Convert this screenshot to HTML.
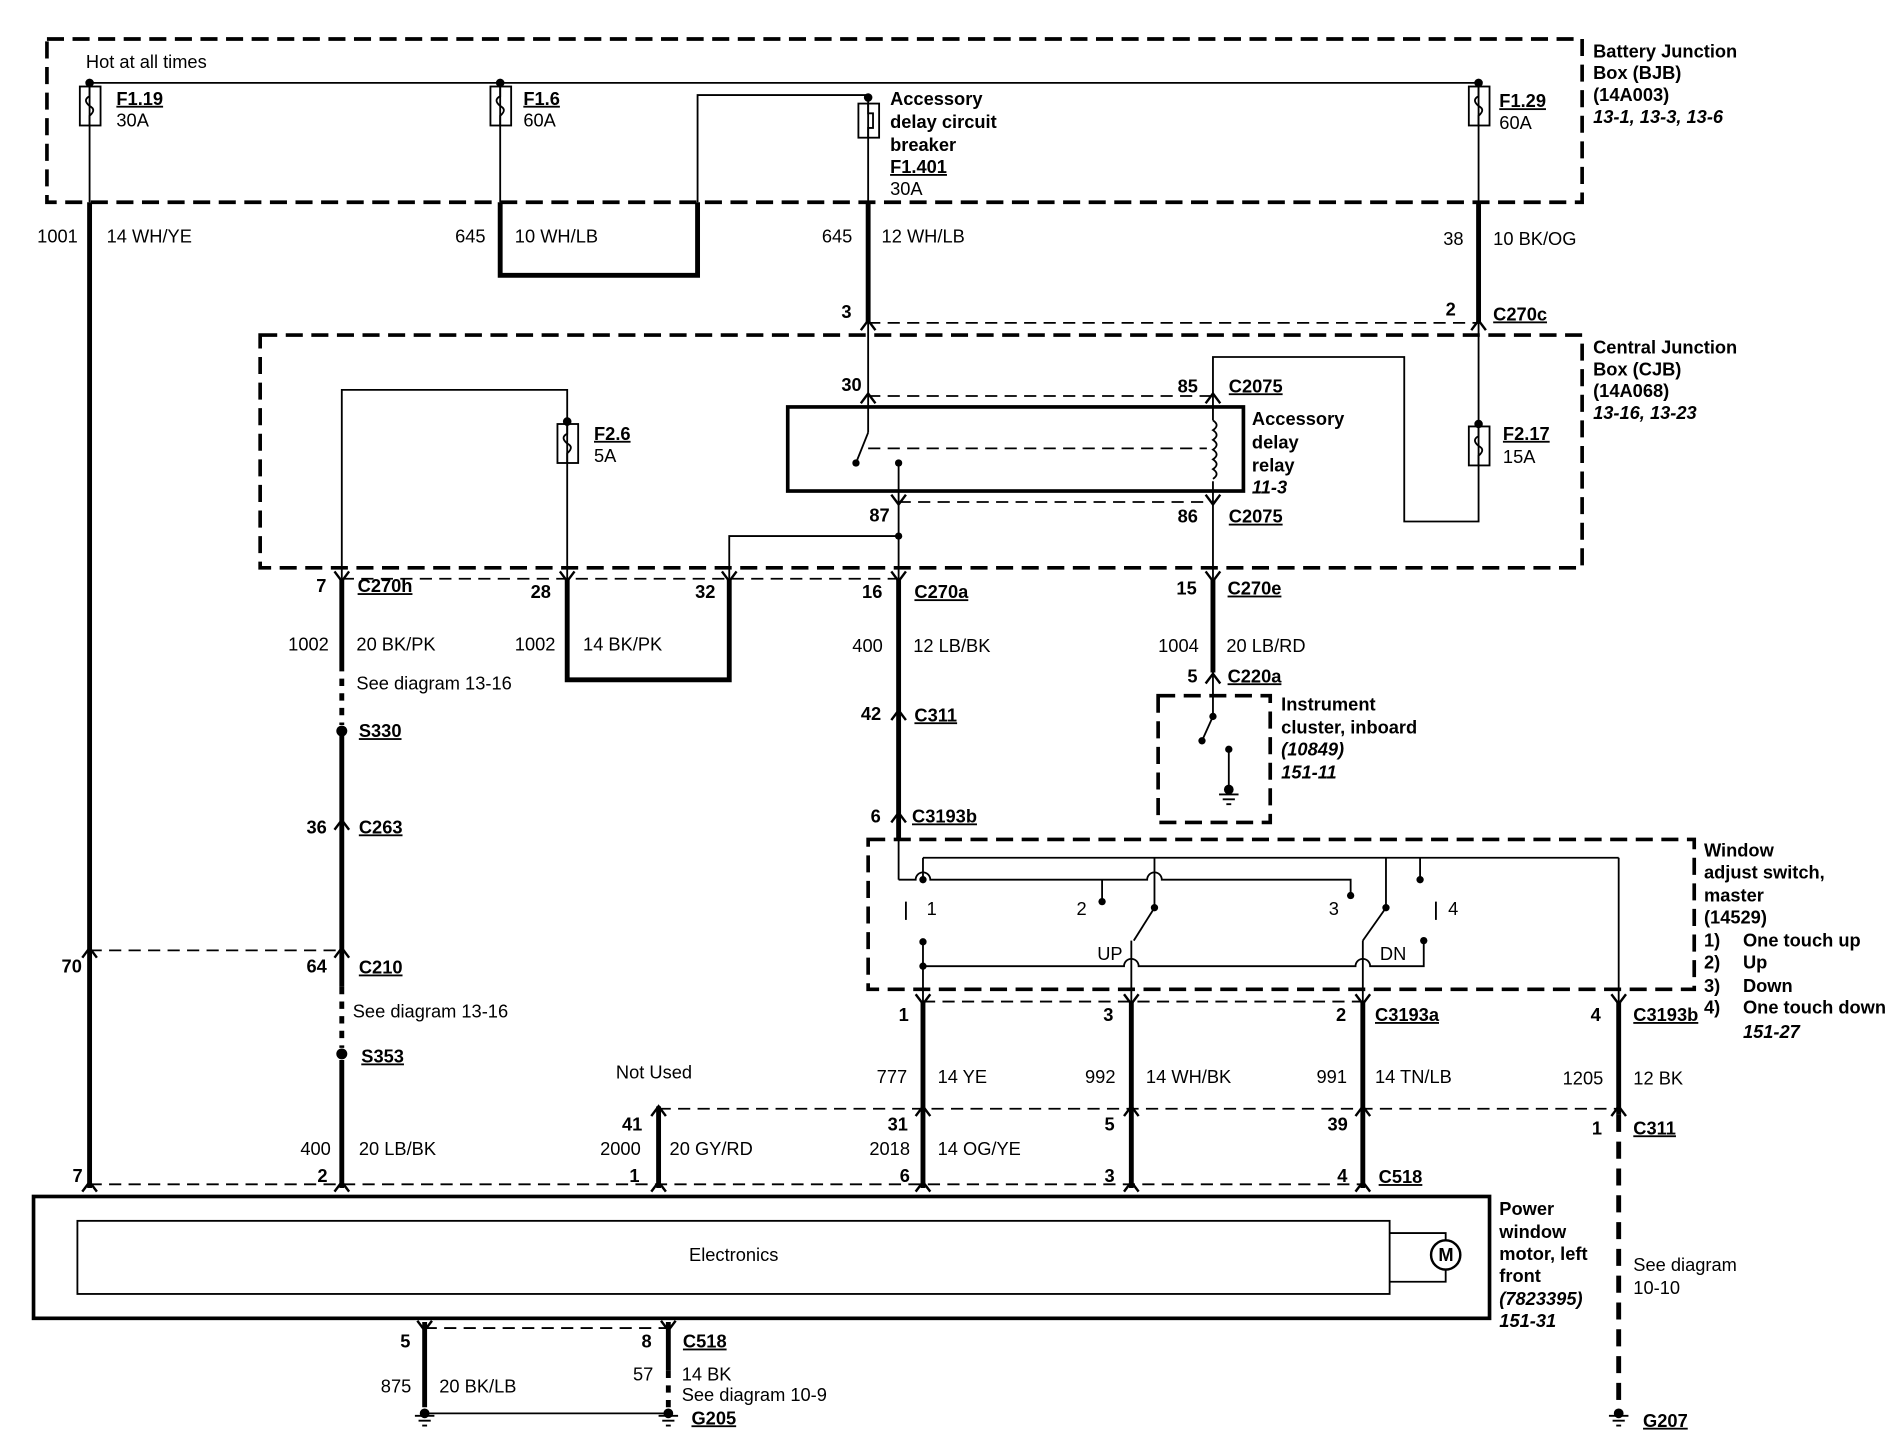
<!DOCTYPE html>
<html><head><meta charset="utf-8"><style>
html,body{margin:0;padding:0;background:#fff;}
svg{display:block}
text{font-family:"Liberation Sans",Arial,sans-serif;font-size:15px;fill:#000}
.b{font-weight:bold}
.i{font-style:italic;font-weight:bold}
.u{text-decoration:underline;font-weight:bold}
</style></head><body>
<svg width="1902" height="1456" viewBox="0 0 1560 1195" xmlns="http://www.w3.org/2000/svg">
<g fill="none" stroke="#000">
<g stroke-width="3" stroke-dasharray="14,7">
<rect x="38" y="32" width="1260" height="134"/>
<rect x="213" y="275" width="1085" height="191"/>
<rect x="950" y="571" width="92" height="104"/>
<rect x="712" y="689" width="678" height="123"/>
</g>
<g stroke-width="1.5" stroke-dasharray="10,6">
<line x1="712" y1="265" x2="1213" y2="265"/>
<line x1="712" y1="325" x2="995" y2="325"/>
<line x1="737" y1="412" x2="995" y2="412"/>
<line x1="712" y1="368" x2="990" y2="368"/>
<line x1="280" y1="475" x2="737" y2="475"/>
<line x1="73" y1="780" x2="280" y2="780"/>
<line x1="757" y1="822" x2="1118" y2="822"/>
<line x1="540" y1="910" x2="1328" y2="910"/>
<line x1="73" y1="972" x2="1118" y2="972"/>
<line x1="348" y1="1090" x2="548" y2="1090"/>
</g>
<g stroke-width="1.5">
<line x1="73" y1="68" x2="1213" y2="68"/>
<line x1="73" y1="68" x2="73" y2="166"/>
<line x1="410" y1="68" x2="410" y2="166"/>
<polyline points="572,166 572,78 712,78 712,166"/>
<line x1="1213" y1="68" x2="1213" y2="166"/>
<line x1="712" y1="265" x2="712" y2="355"/>
<line x1="712" y1="355" x2="702" y2="380"/>
<line x1="737" y1="380" x2="737" y2="475"/>
<polyline points="737,440 598,440 598,475"/>
<polyline points="1213,265 1213,428 1152,428 1152,293 995,293 995,345"/>
<line x1="995" y1="395" x2="995" y2="475"/>
<path d="M995 345 q6 4 0 8 q6 4 0 8 q6 4 0 8 q6 4 0 8 q6 4 0 8 q6 4 0 8"/>
<polyline points="280,475 280,320 465,320 465,475"/>
<line x1="995" y1="550" x2="995" y2="588"/>
<line x1="995" y1="588" x2="986" y2="608"/>
<line x1="1008" y1="615" x2="1008" y2="650"/>
<line x1="737" y1="690" x2="737" y2="722"/>
<line x1="757" y1="704" x2="1328" y2="704"/>
<line x1="1165" y1="704" x2="1165" y2="722"/>
<path d="M737 722 H751 a6 6 0 0 1 12 0 H941 a6 6 0 0 1 12 0 H1108 V735"/>
<line x1="757" y1="704" x2="757" y2="722"/>
<line x1="904" y1="722" x2="904" y2="740"/>
<line x1="947" y1="704" x2="947" y2="745"/>
<line x1="947" y1="745" x2="930" y2="772"/>
<line x1="1137" y1="704" x2="1137" y2="745"/>
<line x1="1137" y1="745" x2="1118" y2="772"/>
<line x1="743" y1="740" x2="743" y2="755"/>
<line x1="1178" y1="740" x2="1178" y2="755"/>
<line x1="757" y1="773" x2="757" y2="822"/>
<path d="M757 793 H922 a6 6 0 0 1 12 0 H1112 a6 6 0 0 1 12 0 H1168 V772"/>
<line x1="928" y1="772" x2="928" y2="822"/>
<line x1="1118" y1="772" x2="1118" y2="822"/>
<line x1="1328" y1="704" x2="1328" y2="822"/>
<line x1="348" y1="1160" x2="548" y2="1160"/>
<polyline points="1140,1012 1186,1012 1186,1018"/>
<polyline points="1140,1052 1186,1052 1186,1042"/>
</g>
<g stroke-width="4">
<line x1="73" y1="166" x2="73" y2="975"/>
<polyline points="410,166 410,226 572,226 572,166"/>
<line x1="712" y1="166" x2="712" y2="265"/>
<line x1="1213" y1="166" x2="1213" y2="265"/>
<polyline points="465,475 465,558 598,558 598,475"/>
<line x1="280" y1="475" x2="280" y2="545"/>
<line x1="280" y1="600" x2="280" y2="810"/>
<line x1="280" y1="870" x2="280" y2="975"/>
<line x1="737" y1="475" x2="737" y2="690"/>
<line x1="995" y1="475" x2="995" y2="552"/>
<line x1="757" y1="822" x2="757" y2="975"/>
<line x1="928" y1="822" x2="928" y2="975"/>
<line x1="1118" y1="822" x2="1118" y2="975"/>
<line x1="1328" y1="822" x2="1328" y2="915"/>
<line x1="540" y1="908" x2="540" y2="975"/>
<line x1="348" y1="1085" x2="348" y2="1155"/>
<line x1="548" y1="1085" x2="548" y2="1125"/>
</g>
<g stroke-width="4" stroke-dasharray="6,6">
<line x1="280" y1="545" x2="280" y2="595"/>
<line x1="280" y1="810" x2="280" y2="860"/>
<line x1="548" y1="1125" x2="548" y2="1155"/>
</g>
<line x1="1328" y1="915" x2="1328" y2="1155" stroke-width="4" stroke-dasharray="14,8"/>
<rect x="646" y="334" width="374" height="69" stroke-width="3"/>
<rect x="27" y="982" width="1195" height="100" stroke-width="3"/>
<rect x="63" y="1002" width="1077" height="60" stroke-width="1.5"/>
<circle cx="1186" cy="1030" r="12" stroke-width="2"/>
<g stroke-width="1.5">
<rect x="65" y="71" width="17" height="32"/><path d="M73 71 v8 q-6 3 0 8 q6 3 0 8 v8"/>
<rect x="402" y="71" width="17" height="32"/><path d="M410 71 v8 q-6 3 0 8 q6 3 0 8 v8"/>
<rect x="1205" y="71" width="17" height="32"/><path d="M1213 71 v8 q-6 3 0 8 q6 3 0 8 v8"/>
<rect x="457" y="348" width="17" height="32"/><path d="M465 348 v8 q-6 3 0 8 q6 3 0 8 v8"/>
<rect x="1205" y="350" width="17" height="32"/><path d="M1213 350 v8 q-6 3 0 8 q6 3 0 8 v8"/>
<rect x="704" y="85" width="17" height="28"/><path d="M712 85 v8 h4 v12 h-4 v8"/>
</g>
<g stroke-width="2">
<path d="M706 271 L712 263 L718 271"/><path d="M1207 271 L1213 263 L1219 271"/>
<path d="M706 331 L712 323 L718 331"/><path d="M989 331 L995 323 L1001 331"/>
<path d="M989 561 L995 553 L1001 561"/>
<path d="M274 681 L280 673 L286 681"/><path d="M731 591 L737 583 L743 591"/><path d="M731 675 L737 667 L743 675"/>
<path d="M67 786 L73 778 L79 786"/><path d="M274 786 L280 778 L286 786"/>
<path d="M67 978 L73 970 L79 978"/><path d="M274 978 L280 970 L286 978"/><path d="M534 978 L540 970 L546 978"/>
<path d="M751 978 L757 970 L763 978"/><path d="M922 978 L928 970 L934 978"/><path d="M1112 978 L1118 970 L1124 978"/>
<path d="M751 916 L757 908 L763 916"/><path d="M922 916 L928 908 L934 916"/><path d="M1112 916 L1118 908 L1124 916"/><path d="M1322 916 L1328 908 L1334 916"/><path d="M534 916 L540 908 L546 916"/>
<path d="M731 406 L737 414 L743 406"/><path d="M989 406 L995 414 L1001 406"/>
<path d="M274 469 L280 477 L286 469"/><path d="M459 469 L465 477 L471 469"/><path d="M592 469 L598 477 L604 469"/><path d="M731 469 L737 477 L743 469"/><path d="M989 469 L995 477 L1001 469"/>
<path d="M751 816 L757 824 L763 816"/><path d="M922 816 L928 824 L934 816"/><path d="M1112 816 L1118 824 L1124 816"/><path d="M1322 816 L1328 824 L1334 816"/>
<path d="M342 1084 L348 1092 L354 1084"/><path d="M542 1084 L548 1092 L554 1084"/>
</g>
<g stroke-width="1.5">
<path d="M1000 652 h16 M1003 656 h10 M1006 660 h4"/>
<path d="M340 1162 h16 M343 1166 h10 M346 1170 h4"/>
<path d="M540 1162 h16 M543 1166 h10 M546 1170 h4"/>
<path d="M1320 1162 h16 M1323 1166 h10 M1326 1170 h4"/>
</g>
</g>
<g fill="#000">
<circle cx="73" cy="68" r="3.5"/><circle cx="410" cy="68" r="3.5"/><circle cx="1213" cy="68" r="3.5"/><circle cx="712" cy="80" r="3.5"/>
<circle cx="465" cy="346" r="3.5"/><circle cx="1213" cy="348" r="3.5"/><circle cx="737" cy="440" r="3"/><circle cx="737" cy="380" r="3"/><circle cx="702" cy="380" r="3"/>
<circle cx="280" cy="600" r="4.5"/><circle cx="280" cy="865" r="4.5"/>
<circle cx="986" cy="608" r="3"/><circle cx="1008" cy="615" r="3"/><circle cx="995" cy="588" r="3"/>
<circle cx="757" cy="722" r="3"/><circle cx="904" cy="740" r="3"/><circle cx="947" cy="745" r="3"/><circle cx="1108" cy="735" r="3"/><circle cx="1137" cy="745" r="3"/><circle cx="1165" cy="722" r="3"/>
<circle cx="757" cy="773" r="3"/><circle cx="757" cy="793" r="3"/><circle cx="1168" cy="772" r="3"/>
<circle cx="1008" cy="648" r="4"/><circle cx="348" cy="1160" r="4"/><circle cx="548" cy="1160" r="4"/><circle cx="1328" cy="1160" r="4"/>
</g>
<text x="70" y="56">Hot at all times</text>
<text x="95" y="86" class="u">F1.19</text><text x="95" y="104">30A</text>
<text x="429" y="86" class="u">F1.6</text><text x="429" y="104">60A</text>
<text x="730" y="86" class="b">Accessory</text><text x="730" y="105" class="b">delay circuit</text><text x="730" y="124" class="b">breaker</text>
<text x="730" y="142" class="u">F1.401</text><text x="730" y="160">30A</text>
<text x="1230" y="88" class="u">F1.29</text><text x="1230" y="106">60A</text>
<text x="1307" y="47" class="b">Battery Junction</text><text x="1307" y="65" class="b">Box (BJB)</text><text x="1307" y="83" class="b">(14A003)</text><text x="1307" y="101" class="i">13-1, 13-3, 13-6</text>
<text x="30" y="199">1001</text><text x="87" y="199">14  WH/YE</text>
<text x="373" y="199">645</text><text x="422" y="199">10  WH/LB</text>
<text x="674" y="199">645</text><text x="723" y="199">12  WH/LB</text>
<text x="1184" y="201">38</text><text x="1225" y="201">10  BK/OG</text>
<text x="690" y="261" class="b">3</text><text x="1186" y="259" class="b">2</text><text x="1225" y="263" class="u">C270c</text>
<text x="1307" y="290" class="b">Central Junction</text><text x="1307" y="308" class="b">Box (CJB)</text><text x="1307" y="326" class="b">(14A068)</text><text x="1307" y="344" class="i">13-16, 13-23</text>
<text x="690" y="321" class="b">30</text><text x="966" y="322" class="b">85</text><text x="1008" y="322" class="u">C2075</text>
<text x="487" y="361" class="u">F2.6</text><text x="487" y="379">5A</text>
<text x="1027" y="349" class="b">Accessory</text><text x="1027" y="368" class="b">delay</text><text x="1027" y="387" class="b">relay</text><text x="1027" y="405" class="i">11-3</text>
<text x="1233" y="361" class="u">F2.17</text><text x="1233" y="380">15A</text>
<text x="713" y="428" class="b">87</text><text x="966" y="429" class="b">86</text><text x="1008" y="429" class="u">C2075</text>
<text x="259" y="486" class="b">7</text><text x="293" y="486" class="u">C270h</text>
<text x="435" y="491" class="b">28</text><text x="570" y="491" class="b">32</text>
<text x="707" y="491" class="b">16</text><text x="750" y="491" class="u">C270a</text>
<text x="965" y="488" class="b">15</text><text x="1007" y="488" class="u">C270e</text>
<text x="236" y="534">1002</text><text x="292" y="534">20  BK/PK</text>
<text x="422" y="534">1002</text><text x="478" y="534">14  BK/PK</text>
<text x="699" y="535">400</text><text x="749" y="535">12  LB/BK</text>
<text x="950" y="535">1004</text><text x="1006" y="535">20  LB/RD</text>
<text x="974" y="560" class="b">5</text><text x="1007" y="560" class="u">C220a</text>
<text x="292" y="566">See diagram 13-16</text>
<text x="1051" y="583" class="b">Instrument</text><text x="1051" y="602" class="b">cluster, inboard</text><text x="1051" y="620" class="i">(10849)</text><text x="1051" y="639" class="i">151-11</text>
<text x="706" y="591" class="b">42</text><text x="750" y="592" class="u">C311</text>
<text x="294" y="605" class="u">S330</text>
<text x="714" y="675" class="b">6</text><text x="748" y="675" class="u">C3193b</text>
<text x="251" y="684" class="b">36</text><text x="294" y="684" class="u">C263</text>
<text x="1398" y="703" class="b">Window</text><text x="1398" y="721" class="b">adjust switch,</text><text x="1398" y="740" class="b">master</text><text x="1398" y="758" class="b">(14529)</text>
<text x="1398" y="777" class="b">1)</text><text x="1430" y="777" class="b">One touch up</text>
<text x="1398" y="795" class="b">2)</text><text x="1430" y="795" class="b">Up</text>
<text x="1398" y="814" class="b">3)</text><text x="1430" y="814" class="b">Down</text>
<text x="1398" y="832" class="b">4)</text><text x="1430" y="832" class="b">One touch down</text>
<text x="1430" y="852" class="i">151-27</text>
<text x="760" y="751">1</text><text x="883" y="751">2</text><text x="1090" y="751">3</text><text x="1188" y="751">4</text>
<text x="900" y="788">UP</text><text x="1132" y="788">DN</text>
<text x="50" y="798" class="b">70</text><text x="251" y="798" class="b">64</text><text x="294" y="799" class="u">C210</text>
<text x="289" y="835">See diagram 13-16</text>
<text x="737" y="838" class="b">1</text><text x="905" y="838" class="b">3</text><text x="1096" y="838" class="b">2</text><text x="1128" y="838" class="u">C3193a</text>
<text x="1305" y="838" class="b">4</text><text x="1340" y="838" class="u">C3193b</text>
<text x="296" y="872" class="u">S353</text>
<text x="505" y="885">Not Used</text>
<text x="719" y="889">777</text><text x="769" y="889">14  YE</text>
<text x="890" y="889">992</text><text x="940" y="889">14  WH/BK</text>
<text x="1080" y="889">991</text><text x="1128" y="889">14  TN/LB</text>
<text x="1282" y="890">1205</text><text x="1340" y="890">12  BK</text>
<text x="510" y="928" class="b">41</text><text x="728" y="928" class="b">31</text><text x="906" y="928" class="b">5</text><text x="1089" y="928" class="b">39</text>
<text x="1306" y="931" class="b">1</text><text x="1340" y="931" class="u">C311</text>
<text x="246" y="948">400</text><text x="294" y="948">20  LB/BK</text>
<text x="492" y="948">2000</text><text x="549" y="948">20  GY/RD</text>
<text x="713" y="948">2018</text><text x="769" y="948">14  OG/YE</text>
<text x="59" y="970" class="b">7</text><text x="260" y="970" class="b">2</text><text x="516" y="970" class="b">1</text><text x="738" y="970" class="b">6</text><text x="906" y="970" class="b">3</text><text x="1097" y="970" class="b">4</text><text x="1131" y="971" class="u">C518</text>
<text x="565" y="1035">Electronics</text>
<text x="1180" y="1035" font-size="13" class="b">M</text>
<text x="1230" y="997" class="b">Power</text><text x="1230" y="1016" class="b">window</text><text x="1230" y="1034" class="b">motor, left</text><text x="1230" y="1052" class="b">front</text><text x="1230" y="1071" class="i">(7823395)</text><text x="1230" y="1089" class="i">151-31</text>
<text x="1340" y="1043">See diagram</text><text x="1340" y="1062">10-10</text>
<text x="328" y="1106" class="b">5</text><text x="526" y="1106" class="b">8</text><text x="560" y="1106" class="u">C518</text>
<text x="519" y="1133">57</text><text x="559" y="1133">14  BK</text><text x="559" y="1150">See diagram 10-9</text>
<text x="312" y="1143">875</text><text x="360" y="1143">20  BK/LB</text>
<text x="567" y="1169" class="u">G205</text><text x="1348" y="1171" class="u">G207</text>
</svg>
</body></html>
